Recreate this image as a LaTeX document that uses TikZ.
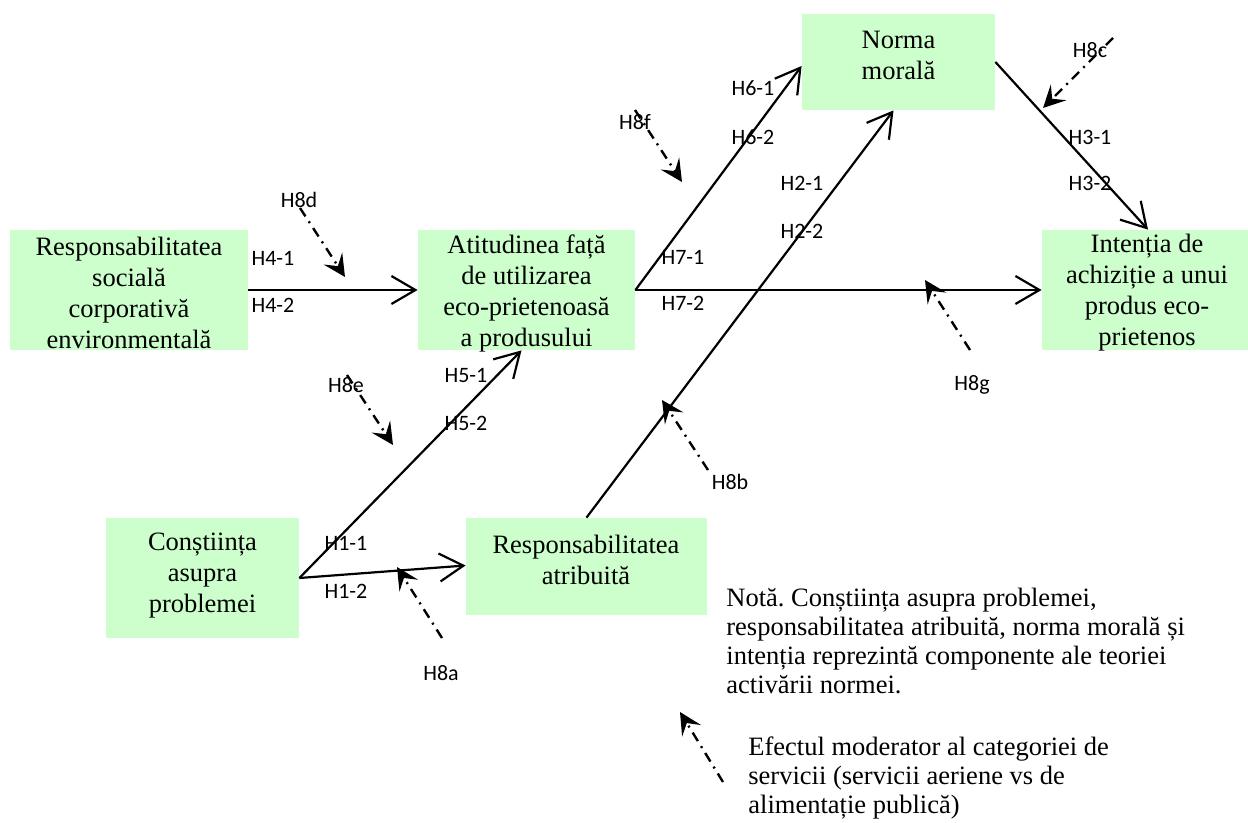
\documentclass[tikz,border=0pt]{standalone}
\usepackage{fontspec}
\setmainfont{Liberation Serif}
\newfontfamily\labfont{Carlito}
\usetikzlibrary{arrows.meta}
\definecolor{boxgreen}{RGB}{204,255,204}
\begin{document}
\frenchspacing
\begin{tikzpicture}[x=0.5pt,y=-0.5pt,
  box/.style={draw=none, fill=boxgreen, inner sep=0pt, minimum width=#1},
  boxtext/.style={inner sep=0pt, align=center, font=\fontsize{13.25}{15.5}\selectfont},
  hyp/.style={inner sep=0pt, font=\labfont\fontsize{11}{13}\selectfont},
  note/.style={inner sep=0pt, align=left, anchor=west, font=\fontsize{13.25}{14.5}\selectfont},
  path/.style={line width=1.1pt, -{Straight Barb[length=12pt,width=14pt,line width=1.1pt]}},
  moder/.style={line width=1.2pt, dash pattern=on 5pt off 3pt on 1pt off 3pt,
    -{Stealth[length=11pt,width=11pt,inset=4.5pt]}}
]
\useasboundingbox (0,0) rectangle (1248,823);

% constructs
\node[box=119pt, minimum height=60pt] (rsc) at (129,290) {};
\node[boxtext] (rsc-t) at (129,293) {Responsabilitatea\\socială\\corporativă\\environmentală};
\node[box=108.5pt, minimum height=60pt] (att) at (526.5,290) {};
\node[boxtext] (att-t) at (526.5,293) {Atitudinea față\\de utilizarea\\eco-prietenoasă\\a produsului};
\node[box=96.5pt, minimum height=48pt] (norma) at (898.5,62) {};
\node[boxtext] (norma-t) at (898.5,55) {Norma\\morală};
\node[box=103pt, minimum height=60pt] (int) at (1145,290) {};
\node[boxtext] (int-t) at (1147,293) {Intenția de\\achiziție a unui\\produs eco-\\prietenos};
\node[box=96.5pt, minimum height=60pt] (con) at (202.5,578) {};
\node[boxtext] (con-t) at (202.5,576) {Conștiința\\asupra\\problemei};
\node[box=120.5pt, minimum height=48.5pt] (ra) at (586.5,566.5) {};
\node[boxtext] (ra-t) at (586,560) {Responsabilitatea\\atribuită};

% hypothesised paths
\draw[path] (rsc.east) -- (att.west);
\draw[path] (att.east) -- ([yshift=-2pt]norma.west);
\draw[path] (att.east) -- (int.west);
\draw[path] (norma.east) -- ([xshift=1.5pt]int.north);
\draw[path] (con.east) -- ([yshift=0.5pt]ra.west);
\draw[path] (con.east) -- ([xshift=-2.5pt]att.south);
\draw[path] (ra.north) -- ([xshift=-2.5pt]norma.south);

% moderating effects
\coordinate (m8d-s) at (300,208);  \coordinate (m8d-e) at (345,277);
\coordinate (m8f-s) at (635,110);  \coordinate (m8f-e) at (682,182);
\coordinate (m8e-s) at (347,375);  \coordinate (m8e-e) at (393,445);
\coordinate (m8c-s) at (1113,38);  \coordinate (m8c-e) at (1043,108);
\coordinate (m8g-s) at (970,350);  \coordinate (m8g-e) at (925,280);
\coordinate (m8b-s) at (708,470);  \coordinate (m8b-e) at (662,400);
\coordinate (m8a-s) at (442,638);  \coordinate (m8a-e) at (397,567);
\coordinate (leg-s) at (723,782);  \coordinate (leg-e) at (680,712);
\foreach \m in {m8d,m8f,m8e,m8c,m8g,m8b,m8a,leg}
  \draw[moder] (\m-s) -- (\m-e);

% hypothesis labels
\node[hyp] (h8d) at (299,200) {H8d};
\node[hyp] (h41) at (273,258) {H4-1};
\node[hyp] (h42) at (273,305) {H4-2};
\node[hyp] (h8f) at (635,122) {H8f};
\node[hyp] (h61) at (753,88) {H6-1};
\node[hyp] (h62) at (753,137) {H6-2};
\node[hyp] (h71) at (683,257) {H7-1};
\node[hyp] (h72) at (683,303) {H7-2};
\node[hyp] (h21) at (802,183) {H2-1};
\node[hyp] (h22) at (802,231) {H2-2};
\node[hyp] (h8c) at (1090,50) {H8c};
\node[hyp] (h31) at (1090,137) {H3-1};
\node[hyp] (h32) at (1090,183) {H3-2};
\node[hyp] (h8g) at (972,385) {H8g};
\node[hyp] (h51) at (466,375) {H5-1};
\node[hyp] (h52) at (466,423) {H5-2};
\node[hyp] (h8e) at (346,385) {H8e};
\node[hyp] (h11) at (346,543) {H1-1};
\node[hyp] (h12) at (346,591) {H1-2};
\node[hyp] (h8b) at (730,482) {H8b};
\node[hyp] (h8a) at (441,673) {H8a};

% notes
\node[note] (nota) at (726,641) {Notă. Conștiința asupra problemei,\\responsabilitatea atribuită, norma morală și\\intenția reprezintă componente ale teoriei\\activării normei.};
\node[note] (legend) at (748,778) {Efectul moderator al categoriei de\\servicii (servicii aeriene vs de\\alimentație publică)};
\end{tikzpicture}
\end{document}
